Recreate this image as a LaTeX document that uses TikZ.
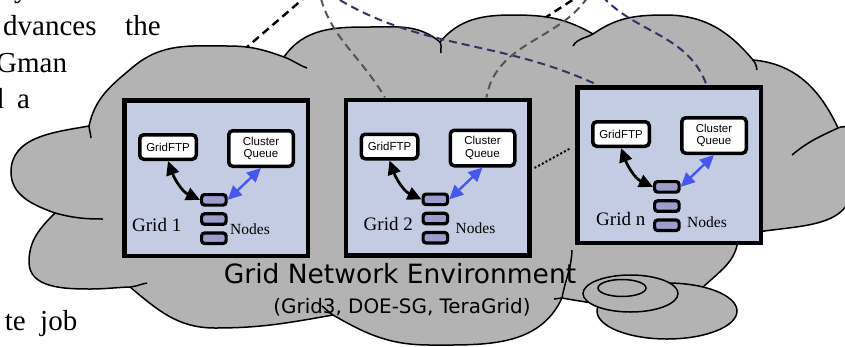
\documentclass[tikz,border=0pt]{standalone}
\usepackage{fontspec}
\setmainfont{Liberation Serif}
\setsansfont{Liberation Sans}
\newfontfamily\verdanafont{DejaVu Sans}
\usetikzlibrary{arrows.meta,positioning,calc}
\definecolor{cloudgray}{HTML}{B3B3B3}
\definecolor{boxblue}{HTML}{C4CCE3}
\definecolor{cpufill}{HTML}{9E9ECE}
\definecolor{arrblue}{HTML}{4657EE}
\definecolor{linknavy}{HTML}{333366}
\definecolor{linkgray}{HTML}{555555}
\pgfdeclarelayer{background}
\pgfsetlayers{background,main}

\begin{document}
\begin{tikzpicture}[x=1pt, y=-1pt,
  gridbox/.style={draw, line width=4.5pt, fill=boxblue, minimum width=183.5pt,
               minimum height=155.5pt, inner sep=0pt},
  svcbox/.style={draw, line width=3.5pt, fill=white, rounded corners=4pt,
               inner sep=0pt, align=center,
               font=\sffamily\fontsize{11.5}{12.5}\selectfont},
  cpu/.style={draw, line width=3.2pt, fill=cpufill, rounded corners=3pt,
               minimum width=24.5pt, minimum height=10.5pt, inner sep=0pt},
  lbl/.style={anchor=base west, inner sep=0pt},
  para/.style={inner sep=0pt, font=\fontsize{29}{29}\selectfont},
  twoway/.style={{Triangle[length=14pt,width=13pt]}-{Triangle[length=14pt,width=13pt]},
               line width=2.7pt},
  link/.style={line width=2pt, dash pattern=on 8pt off 5pt},
  rim/.style={line width=1.5pt},
]
\useasboundingbox (0,0) rectangle (845,346);
\clip (0,0) rectangle (845,346);

% text of the page round the figure
\node[para, anchor=base west] (para1) at (14,-3) {y};
\node[para, anchor=base west] (para2) at (3,35) {dvances};
\node[para, anchor=base west] (para3) at (125,35) {the};
\node[para, anchor=base west] (para4) at (-4,72) {Gman};
\node[para, anchor=base east] (para5) at (4,108) {d};
\node[para, anchor=base west] (para6) at (17,108) {a};
\node[para, anchor=base east] (para7) at (26,330) {te};
\node[para, anchor=base west] (para8) at (40,330) {job};

% cloud
\draw[rim, fill=cloudgray] (89,126) to[out=78,in=-140] (133,67)
  to[out=40,in=180] (228,46)
  to[out=0,in=160] (284,57) to[out=55,in=180] (370,27)
  to[out=0,in=140] (440,42) to[out=50,in=180] (513,15)
  to[out=0,in=150] (593,34) to[out=35,in=180] (665,15)
  to[out=0,in=130] (753,60) to[out=-5,in=115] (838,128)
  to[out=25,in=90] (852,185) to[out=-90,in=15] (738,236)
  to[out=-90,in=45] (700,290) to[out=-135,in=0] (640,306)
  to[out=180,in=-10] (562,298) to[out=-115,in=0] (430,345)
  to[out=180,in=-30] (333,315) to[out=190,in=0] (215,328)
  to[out=180,in=-40] (130,287) to[out=182,in=0] (90,289)
  to[out=180,in=-90] (29,262) to[out=90,in=-135] (55,213)
  to[out=160,in=-90] (11,172) to[out=90,in=190] cycle;
\draw[rim] (284,57) to[out=-20,in=160] (307,68);
\draw[rim] (440,42) to[out=-60,in=100] (441,53);
\draw[rim] (573,46) to[out=60,in=210] (593,34);
\draw[rim] (753,60) to[out=-50,in=100] (757,70);
\draw[rim] (792,155) to[out=40,in=205] (838,128);
\draw[rim] (572,250) to[out=-92,in=80] (562,298);
\draw[rim] (562,298) to[out=170,in=-10] (554,299);
\draw[rim] (333,315) to[out=150,in=-35] (322,306);
\draw[rim] (130,287) to[out=5,in=190] (147,283);
\draw[rim] (55,213) to[out=-15,in=180] (103,219);
\draw[rim] (89,126) to[out=-85,in=95] (91,138);

% disk
\draw[rim, fill=cloudgray] (667,311) ellipse [x radius=70, y radius=28];
\draw[rim, fill=cloudgray] (630.5,293.5) ellipse [x radius=47.5, y radius=18.5];
\draw[rim] (622,288) ellipse [x radius=24, y radius=8.5];

% grids
\foreach \g/\gx/\gy/\lx/\ly/\nx/\ny in {1/216/178/10/133/108/136,
    2/437.5/177.5/20/133/112/136, n/669/165/21/140/112/142} {
  \node[gridbox] (grid\g) at (\gx,\gy) {};
  \node[svcbox, minimum width=56.5pt, minimum height=24.5pt,
        below right=35pt and 16pt of grid\g.north west] (ftp\g) {GridFTP};
  \node[svcbox, minimum width=64.5pt, minimum height=35.5pt,
        below right=31pt and 105pt of grid\g.north west] (queue\g) {Cluster\\Queue};
  \node[cpu, below right=95pt and 78pt of grid\g.north west] (nd\g-1) {};
  \node[cpu, below=5.5pt of nd\g-1] (nd\g-2) {};
  \node[cpu, below=5.5pt of nd\g-2] (nd\g-3) {};
  \node[lbl, font=\fontsize{19}{19}\selectfont] (glbl\g)
    at ([shift={(\lx,\ly)}]grid\g.north west) {Grid \g};
  \node[lbl, font=\fontsize{15.5}{15.5}\selectfont] (nlbl\g)
    at ([shift={(\nx,\ny)}]grid\g.north west) {Nodes};
  \draw[twoway] (ftp\g.south) to[out=-70, in=155] (nd\g-1.west);
  \draw[twoway, arrblue, line width=2.4pt] (queue\g.south) -- (nd\g-1.east);
}

% environment title
\node[anchor=base, inner sep=0pt, font=\verdanafont\fontsize{26.5}{26.5}\selectfont]
  (title) at (400,283) {Grid Network Environment};
\node[anchor=base, inner sep=0pt, font=\verdanafont\fontsize{19.9}{19.9}\selectfont]
  (subtitle) at (402,313) {(Grid3, DOE-SG, TeraGrid)};

% links from above
\coordinate (src1) at (318,-14);
\coordinate (src2) at (594,-14);
\begin{pgfonlayer}{background}
  \draw[link, line width=2.4pt] (src1) -- ($(grid1.north west)!0.35!(grid1.north east)$);
  \draw[link, line width=2.4pt] (src2) -- ($(grid2.north west)!0.42!(grid2.north east)$);
\end{pgfonlayer}
\draw[link, linkgray] (src1) to[out=-80, in=120] ($(grid2.north west)!0.22!(grid2.north east)$);
\draw[link, linknavy] (src1) to[out=-35, in=155] ($(gridn.north west)!0.12!(gridn.north east)$);
\draw[link, linkgray] (src2) to[out=-115, in=80] ($(grid2.north west)!0.76!(grid2.north east)$);
\draw[link, linknavy] (src2) to[out=-55, in=110] ($(gridn.north west)!0.70!(gridn.north east)$);
\draw[line width=2pt, dash pattern=on 2pt off 2.2pt]
  ([shift={(3,-9.5)}]grid2.east) -- ([shift={(-4,-17)}]gridn.west);

\end{tikzpicture}
\end{document}
